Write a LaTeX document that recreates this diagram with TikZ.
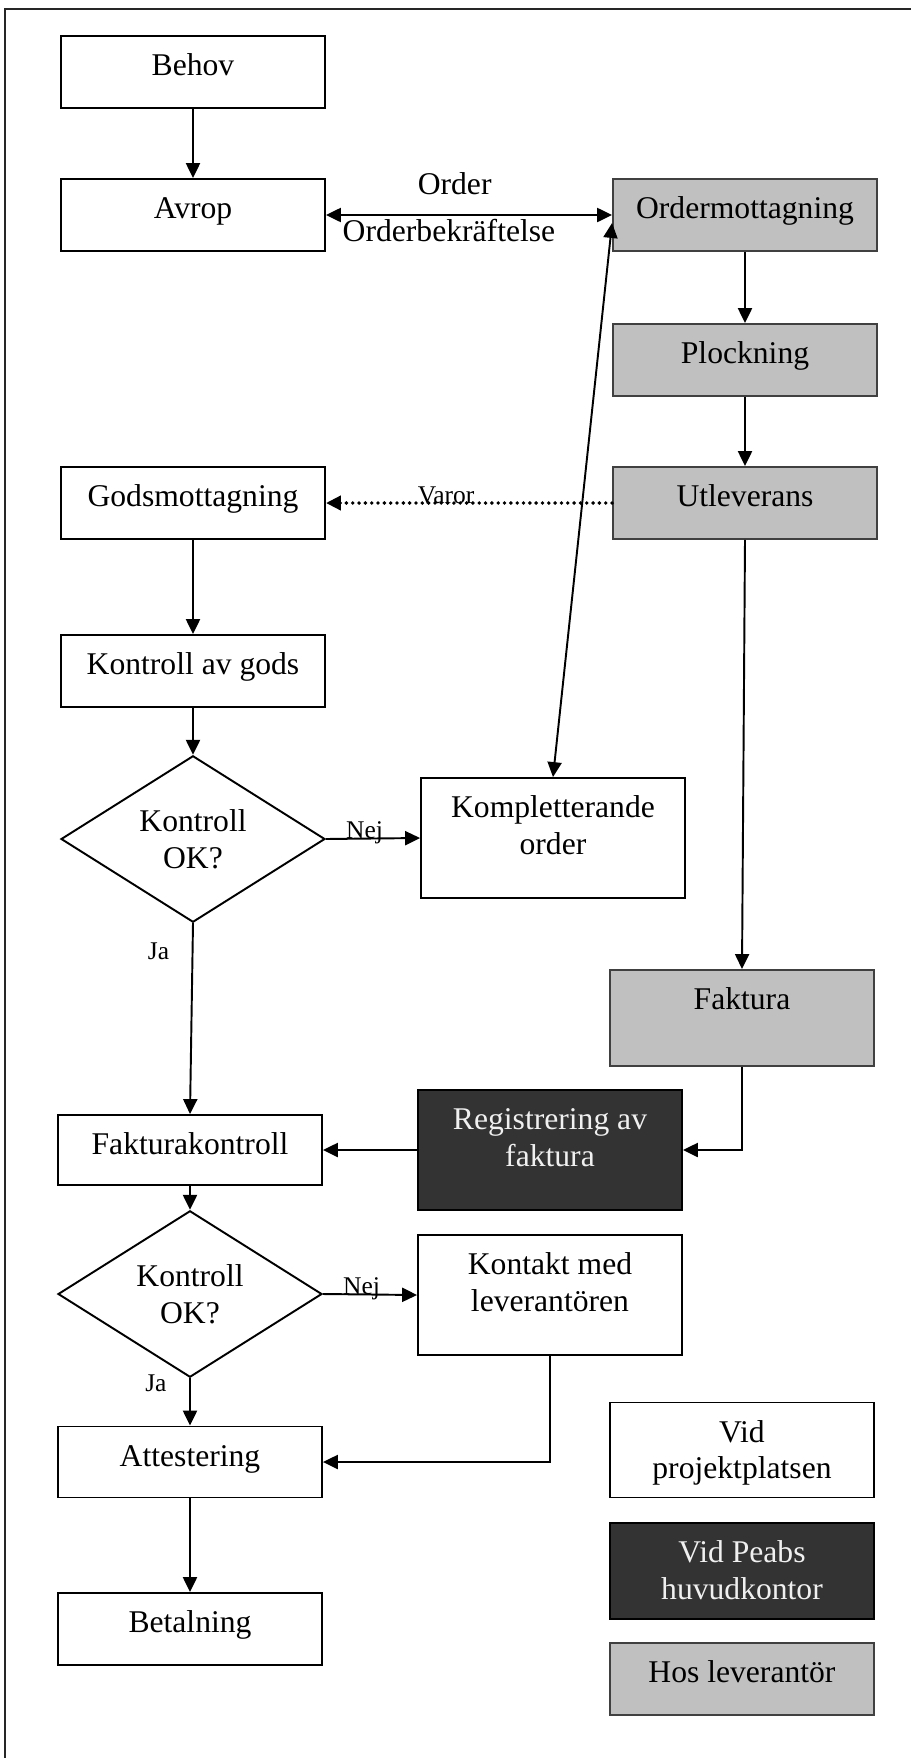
\documentclass[tikz,border=0pt]{standalone}
\usepackage{fontspec}
\setmainfont{Liberation Serif}
\usetikzlibrary{shapes.geometric,arrows.meta}

\definecolor{leverantor}{RGB}{192,192,192}
\definecolor{huvudkontor}{RGB}{51,51,51}
\definecolor{kantgra}{RGB}{64,64,64}

\newcommand{\boxtext}[2]{\parbox[c][#1][t]{5.2cm}{\centering\rule{0pt}{0.79cm}#2}}

\begin{document}
\begin{tikzpicture}[x=0.02cm, y=-0.02cm,
    font=\fontsize{18}{21}\selectfont,
    >={Triangle[length=8.5pt,width=8pt]},
    box/.style={draw, line width=1.1pt, rectangle, inner sep=0pt, minimum width=5.28cm},
    grabox/.style={box, draw=kantgra, fill=leverantor},
    morkbox/.style={box, draw=black, fill=huvudkontor, text=white!94!black},
    beslut/.style={draw, line width=1.1pt, diamond, inner sep=0pt, minimum width=5.28cm, minimum height=3.32cm, align=center},
    arr/.style={->, line width=1.1pt},
    lbl/.style={font=\fontsize{14.5}{17}\selectfont, inner sep=0pt}]

    \useasboundingbox (0,0) rectangle (911,1758);
    \draw[line width=1.5pt, black!85] (911,9) -- (5,9) -- (5,1758);

    % projektplatsen
    \node[box] (behov) at (193,72) {\boxtext{1.44cm}{Behov}};
    \node[box] (avrop) at (193,215) {\boxtext{1.44cm}{Avrop}};
    \node[box] (gods) at (193,503) {\boxtext{1.44cm}{Godsmottagning}};
    \node[box] (kontroll) at (193,671) {\boxtext{1.44cm}{Kontroll av gods}};
    \node[beslut] (k1) at (193,839) {Kontroll\\OK?};
    \node[box] (kompl) at (553,838) {\boxtext{2.4cm}{Kompletterande\\order}};
    \node[box] (fkontroll) at (190,1150) {\boxtext{1.4cm}{Fakturakontroll}};
    \node[beslut] (k2) at (190,1294) {Kontroll\\OK?};
    \node[box] (kontakt) at (550,1295) {\boxtext{2.4cm}{Kontakt med\\leverantören}};
    \node[box] (attest) at (190,1462) {\boxtext{1.42cm}{Attestering}};
    \node[box] (betal) at (190,1629) {\boxtext{1.44cm}{Betalning}};

    % leverantor
    \node[grabox] (ordermot) at (745,215) {\boxtext{1.44cm}{Ordermottagning}};
    \node[grabox] (plock) at (745,360) {\boxtext{1.44cm}{Plockning}};
    \node[grabox] (utlev) at (745,503) {\boxtext{1.44cm}{Utleverans}};
    \node[grabox] (faktura) at (742,1018) {\boxtext{1.92cm}{Faktura}};

    % huvudkontor
    \node[morkbox] (reg) at (550,1150) {\boxtext{2.4cm}{Registrering av\\faktura}};

    % teckenforklaring
    \node[box] (vidprojekt) at (742,1450) {\boxtext{1.9cm}{Vid\\projektplatsen}};
    \node[morkbox] (vidpeabs) at (742,1571) {\boxtext{1.92cm}{Vid Peabs\\huvudkontor}};
    \node[grabox] (hoslev) at (742,1679) {\boxtext{1.44cm}{Hos leverantör}};

    \foreach \a/\b in {behov/avrop, ordermot/plock, plock/utlev, gods/kontroll, kontroll/k1, fkontroll/k2, attest/betal}
        \draw[arr] (\a) -- (\b);

    \draw[<->, line width=1.1pt] (avrop.east) --
        node[pos=0.45, anchor=base, yshift=0.42cm, inner sep=0pt] {Order}
        node[pos=0.43, anchor=base, yshift=-0.54cm, inner sep=0pt] {Orderbekräftelse} (ordermot.west);
    \draw[<->, line width=1.1pt] (kompl.north) -- ([yshift=-0.16cm]ordermot.west);
    \draw[arr, line width=2.2pt, line cap=round, dash pattern=on 0pt off 3.6pt] (utlev.west) -- node[lbl, pos=0.58, anchor=base] {Varor} (gods.east);
    \draw[arr] (utlev.south) -- (faktura.north);
    \draw[arr] (k1.east) -- node[lbl, pos=0.41, anchor=base] {Nej} (kompl.west);
    \draw[arr] (k1.south) -- node[lbl, pos=0.145, left=0.45cm] {Ja} (fkontroll.north);
    \draw[arr] (faktura.south) |- (reg.east);
    \draw[arr] (reg) -- (fkontroll);
    \draw[arr] (k2.east) -- node[lbl, pos=0.41, anchor=base] {Nej} (kontakt.west);
    \draw[arr] (k2.south) -- node[lbl, pos=0.1, left=0.45cm] {Ja} (attest.north);
    \draw[arr] (kontakt.south) |- (attest.east);
\end{tikzpicture}
\end{document}
